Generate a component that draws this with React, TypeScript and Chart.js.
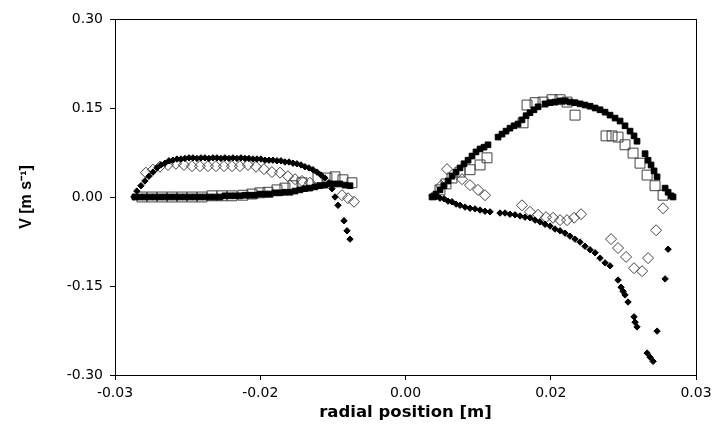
import { useEffect, useRef } from "react";
import { Chart, registerables } from "chart.js";

Chart.register(...registerables);

// ---- axis ticks / titles ----
const xTickValues = [-0.03, -0.015, 0, 0.015, 0.03];
const xTickLabels = ["-0.03", "-0.02", "0.00", "0.02", "0.03"];
const yTickValues = [-0.3, -0.15, 0, 0.15, 0.3];
const yTickLabels = ["-0.30", "-0.15", "0.00", "0.15", "0.30"];
const xTitle = "radial position [m]";
const yTitle = "V [m s\u207B\u00B9]";

// ---- filled diamonds ----
const fdLeftX = [-0.02805, -0.02774, -0.02732, -0.02691, -0.0265, -0.02608, -0.02567, -0.02526, -0.02484, -0.02443, -0.02402, -0.0236, -0.02319, -0.02278, -0.02236, -0.02195, -0.02154, -0.02112, -0.02071, -0.0203, -0.01989, -0.01947, -0.01906, -0.01865, -0.01823, -0.01782, -0.01741, -0.01699, -0.01658, -0.01617, -0.01575, -0.01534, -0.01493, -0.01451, -0.0141, -0.01369, -0.01327, -0.01286, -0.01245, -0.01203, -0.01162, -0.01121, -0.01079, -0.01038, -0.00997, -0.00956, -0.00914, -0.00873, -0.00832, -0.0079, -0.00759, -0.00728, -0.00697, -0.00635, -0.00604, -0.00573];
const fdLeftY = [0, 0.01, 0.019, 0.027, 0.035, 0.042, 0.049, 0.054, 0.057, 0.061, 0.062, 0.064, 0.064, 0.065, 0.066, 0.066, 0.065, 0.066, 0.066, 0.065, 0.066, 0.066, 0.065, 0.066, 0.065, 0.066, 0.065, 0.066, 0.065, 0.065, 0.064, 0.064, 0.064, 0.062, 0.062, 0.062, 0.061, 0.061, 0.059, 0.059, 0.057, 0.056, 0.054, 0.051, 0.049, 0.046, 0.042, 0.037, 0.032, 0.024, 0.014, 0, -0.014, -0.04, -0.057, -0.071];
const fdRightX = [0.00274, 0.00315, 0.00356, 0.00398, 0.00439, 0.0048, 0.00522, 0.00563, 0.00615, 0.00666, 0.00718, 0.0077, 0.00821, 0.00873, 0.00976, 0.01028, 0.01079, 0.01131, 0.01183, 0.01234, 0.01286, 0.01338, 0.01389, 0.01441, 0.01493, 0.01544, 0.01596, 0.01648, 0.01699, 0.01751, 0.01803, 0.01854, 0.01906, 0.01958, 0.02009, 0.02061, 0.02112, 0.02195, 0.02226, 0.02247, 0.02267, 0.02298, 0.0236, 0.02371, 0.02391, 0.02495, 0.02526, 0.02557, 0.02598, 0.02681, 0.02712];
const fdRightY = [0.002, 0, -0.002, -0.003, -0.007, -0.008, -0.012, -0.014, -0.017, -0.019, -0.02, -0.022, -0.024, -0.025, -0.027, -0.027, -0.029, -0.03, -0.032, -0.034, -0.035, -0.039, -0.042, -0.046, -0.049, -0.054, -0.057, -0.061, -0.066, -0.071, -0.076, -0.083, -0.089, -0.094, -0.103, -0.111, -0.116, -0.14, -0.152, -0.159, -0.165, -0.177, -0.202, -0.211, -0.219, -0.263, -0.27, -0.277, -0.226, -0.138, -0.088];

// ---- filled squares ----
const fsLeftX = [-0.02794, -0.02743, -0.02691, -0.02639, -0.02588, -0.02536, -0.02484, -0.02433, -0.02381, -0.02329, -0.02278, -0.02226, -0.02174, -0.02123, -0.02071, -0.0202, -0.01968, -0.01916, -0.01865, -0.01813, -0.01761, -0.0171, -0.01658, -0.01606, -0.01555, -0.01503, -0.01451, -0.014, -0.01348, -0.01296, -0.01245, -0.01193, -0.01141, -0.0109, -0.01038, -0.00987, -0.00935, -0.00883, -0.00832, -0.0078, -0.00728, -0.00677, -0.00625, -0.00573];
const fsLeftY = [0, 0, 0, 0, 0, 0, 0, 0, 0, 0, 0, 0, 0, 0, 0, 0, 0, 0, 0.002, 0.002, 0.002, 0.002, 0.003, 0.003, 0.003, 0.005, 0.005, 0.005, 0.007, 0.007, 0.008, 0.008, 0.01, 0.012, 0.014, 0.015, 0.017, 0.019, 0.02, 0.022, 0.022, 0.022, 0.02, 0.019];
const fsRightX = [0.00274, 0.00315, 0.00356, 0.00398, 0.00439, 0.0048, 0.00522, 0.00563, 0.00604, 0.00646, 0.00687, 0.00728, 0.0077, 0.00811, 0.00852, 0.00956, 0.00997, 0.01038, 0.01079, 0.01121, 0.01162, 0.01203, 0.01245, 0.01286, 0.01327, 0.01369, 0.01441, 0.01493, 0.01544, 0.01596, 0.01648, 0.01699, 0.01751, 0.01803, 0.01854, 0.01906, 0.01958, 0.02009, 0.02061, 0.02112, 0.02164, 0.02216, 0.02267, 0.02319, 0.0236, 0.02391, 0.02474, 0.02505, 0.02536, 0.02567, 0.02598, 0.02681, 0.02712, 0.02743, 0.02763];
const fsRightY = [0, 0.005, 0.012, 0.019, 0.027, 0.035, 0.042, 0.049, 0.056, 0.062, 0.069, 0.076, 0.081, 0.084, 0.088, 0.101, 0.106, 0.111, 0.116, 0.12, 0.123, 0.13, 0.137, 0.142, 0.147, 0.152, 0.157, 0.159, 0.16, 0.162, 0.162, 0.16, 0.159, 0.157, 0.155, 0.153, 0.15, 0.147, 0.143, 0.138, 0.133, 0.128, 0.12, 0.111, 0.103, 0.094, 0.073, 0.062, 0.054, 0.044, 0.034, 0.015, 0.008, 0.002, 0];

// ---- open diamonds ----
const odLeftX = [-0.02681, -0.02608, -0.02536, -0.02453, -0.02371, -0.02288, -0.02205, -0.02123, -0.0204, -0.01958, -0.01875, -0.01792, -0.0171, -0.01627, -0.01544, -0.01462, -0.01379, -0.01296, -0.01214, -0.01141, -0.01069, -0.00987, -0.00656, -0.00594, -0.00532];
const odLeftY = [0.041, 0.046, 0.051, 0.054, 0.056, 0.054, 0.052, 0.052, 0.052, 0.052, 0.052, 0.052, 0.052, 0.054, 0.051, 0.047, 0.042, 0.041, 0.035, 0.03, 0.027, 0.024, 0.003, -0.002, -0.008];
const odRightX = [0.00367, 0.00429, 0.00584, 0.00666, 0.00749, 0.00821, 0.01203, 0.01286, 0.01369, 0.01451, 0.01524, 0.01596, 0.01668, 0.01741, 0.01813, 0.02123, 0.02195, 0.02278, 0.0236, 0.02443, 0.02505, 0.02588, 0.0266];
const odRightY = [0.019, 0.047, 0.03, 0.02, 0.012, 0.003, -0.014, -0.025, -0.03, -0.034, -0.035, -0.039, -0.039, -0.035, -0.029, -0.071, -0.086, -0.101, -0.12, -0.125, -0.103, -0.056, -0.019];

// ---- open squares ----
const osLeftX = [-0.02722, -0.02619, -0.02515, -0.02412, -0.02309, -0.02205, -0.02102, -0.01999, -0.01896, -0.01792, -0.01679, -0.01586, -0.01503, -0.0142, -0.01327, -0.01245, -0.01162, -0.01069, -0.00904, -0.00811, -0.00728, -0.00646, -0.00553];
const osLeftY = [0, 0, 0, 0, 0, 0, 0, 0.002, 0.002, 0.002, 0.003, 0.005, 0.007, 0.008, 0.012, 0.015, 0.019, 0.024, 0.032, 0.032, 0.034, 0.029, 0.024];
const osRightX = [0.00356, 0.00418, 0.0048, 0.00563, 0.00666, 0.0077, 0.00842, 0.01214, 0.01255, 0.01338, 0.0142, 0.01513, 0.01596, 0.01668, 0.01751, 0.02071, 0.02133, 0.02195, 0.02267, 0.0235, 0.02422, 0.02495, 0.02577, 0.0266];
const osRightY = [0.012, 0.022, 0.032, 0.042, 0.046, 0.054, 0.066, 0.125, 0.155, 0.159, 0.16, 0.164, 0.164, 0.16, 0.138, 0.103, 0.103, 0.101, 0.088, 0.074, 0.057, 0.037, 0.019, 0.003];

const zip = (xs: number[], ys: number[]) => xs.map((x, i) => ({ x, y: ys[i] }));

const labelFor = (values: number[], labels: string[], v: number) => {
  const i = values.findIndex((t) => Math.abs(t - v) < 1e-9);
  return i >= 0 ? labels[i] : "";
};

const framePlugin = {
  id: "frame",
  afterDraw(chart: any) {
    const { ctx, chartArea: a } = chart;
    ctx.save();
    ctx.strokeStyle = "#000";
    ctx.lineWidth = 1;
    const l = Math.round(a.left) + 0.5;
    const t = Math.round(a.top) + 0.5;
    const r = Math.round(a.right) + 0.5;
    const b = Math.round(a.bottom) + 0.5;
    ctx.strokeRect(l, t, r - l, b - t);
    ctx.restore();
  },
};

const tickFont = { family: "'DejaVu Sans', sans-serif", size: 14 };

export default function App() {
  const ref = useRef<HTMLCanvasElement>(null);

  useEffect(() => {
    if (!ref.current) return;
    const openColor = "#404040";
    const chart = new Chart(ref.current, {
      type: "scatter",
      data: {
        datasets: [
          {
            label: "filled diamonds",
            data: [...zip(fdLeftX, fdLeftY), ...zip(fdRightX, fdRightY)],
            pointStyle: "rectRot",
            pointRadius: 3.2,
            backgroundColor: "#000",
            borderColor: "#000",
            borderWidth: 1,
          },
          {
            label: "filled squares",
            data: [...zip(fsLeftX, fsLeftY), ...zip(fsRightX, fsRightY)],
            pointStyle: "rect",
            pointRadius: 4,
            backgroundColor: "#000",
            borderColor: "#000",
            borderWidth: 1,
          },
          {
            label: "open diamonds",
            data: [...zip(odLeftX, odLeftY), ...zip(odRightX, odRightY)],
            pointStyle: "rectRot",
            pointRadius: 5.5,
            backgroundColor: "rgba(255,255,255,0)",
            borderColor: openColor,
            borderWidth: 1,
          },
          {
            label: "open squares",
            data: [...zip(osLeftX, osLeftY), ...zip(osRightX, osRightY)],
            pointStyle: "rect",
            pointRadius: 7,
            backgroundColor: "rgba(255,255,255,0)",
            borderColor: openColor,
            borderWidth: 1,
          },
        ],
      },
      options: {
        animation: false,
        responsive: false,
        devicePixelRatio: 1,
        events: [],
        layout: { padding: { top: 19, right: 16, left: 0, bottom: 0 } },
        plugins: {
          legend: { display: false },
          tooltip: { enabled: false },
        },
        scales: {
          x: {
            type: "linear",
            min: -0.03,
            max: 0.03,
            afterBuildTicks: (s: any) => {
              s.ticks = xTickValues.map((v) => ({ value: v }));
            },
            afterFit: (s: any) => {
              s.height = 59;
              s.paddingLeft = 0;
              s.paddingRight = 0;
            },
            ticks: {
              callback: (v: any) => labelFor(xTickValues, xTickLabels, Number(v)),
              color: "#000",
              font: tickFont,
              padding: 5,
              maxRotation: 0,
              autoSkip: false,
            },
            grid: { display: true, drawOnChartArea: false, drawTicks: true, tickLength: 5, color: "#000", lineWidth: 1 },
            border: { display: true, color: "#000", width: 1 },
            title: {
              display: true,
              text: xTitle,
              color: "#000",
              font: { family: "'DejaVu Sans', sans-serif", size: 16.5, weight: "bold" },
              padding: { top: 0, bottom: 11 },
            },
          },
          y: {
            type: "linear",
            min: -0.3,
            max: 0.3,
            afterBuildTicks: (s: any) => {
              s.ticks = yTickValues.map((v) => ({ value: v }));
            },
            afterFit: (s: any) => {
              s.width = 115;
              s.paddingTop = 0;
              s.paddingBottom = 0;
            },
            ticks: {
              callback: (v: any) => labelFor(yTickValues, yTickLabels, Number(v)),
              color: "#000",
              font: tickFont,
              padding: 7,
              autoSkip: false,
            },
            grid: { display: true, drawOnChartArea: false, drawTicks: true, tickLength: 5, color: "#000", lineWidth: 1 },
            border: { display: true, color: "#000", width: 1 },
            title: {
              display: true,
              text: yTitle,
              color: "#000",
              font: { family: "'Liberation Sans', Arial, sans-serif", size: 16, weight: "bold" },
              padding: { top: 17, bottom: 0 },
            },
          },
        },
      },
      plugins: [framePlugin],
    });
    return () => chart.destroy();
  }, []);

  return (
    <div style={{ position: "absolute", left: 0, top: 0, width: 712, height: 434, background: "#fff" }}>
      <canvas ref={ref} width={712} height={434} style={{ display: "block", width: 712, height: 434 }} />
    </div>
  );
}
